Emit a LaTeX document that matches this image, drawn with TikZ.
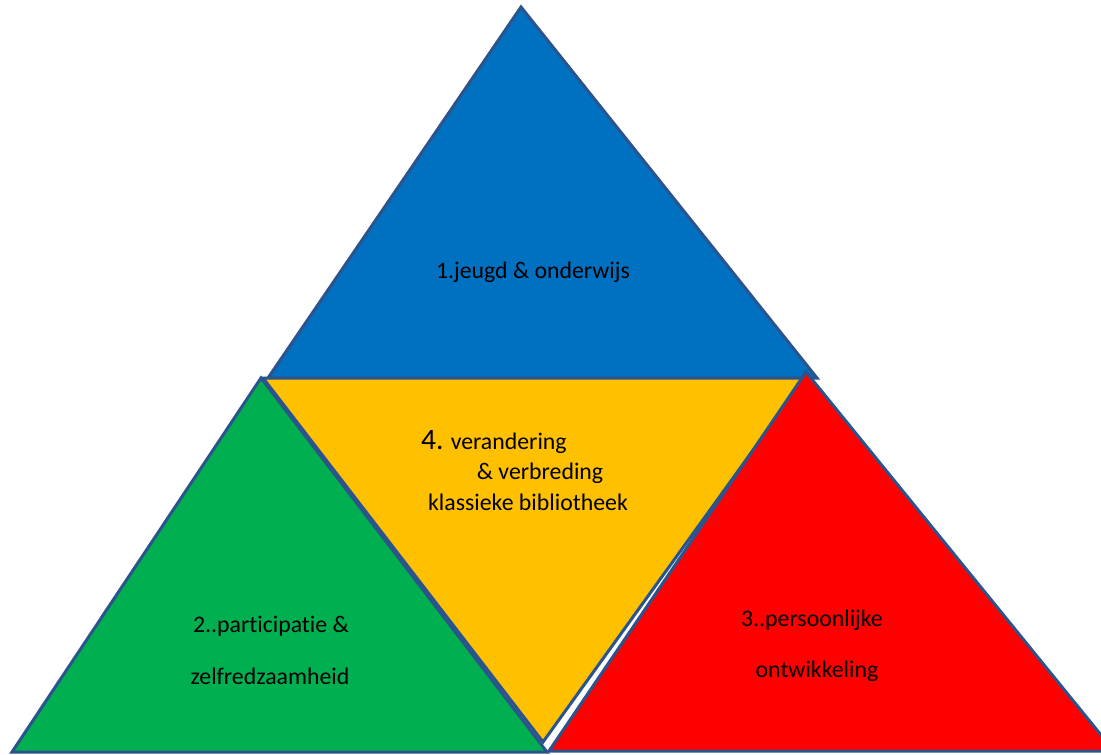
\documentclass[tikz,border=0pt]{standalone}
\usepackage{fontspec}
\setmainfont[RawFeature=-liga]{Carlito}
\definecolor{edge}{RGB}{44,84,140}
\definecolor{tblue}{RGB}{0,112,192}
\definecolor{tgreen}{RGB}{0,176,80}
\definecolor{tyellow}{RGB}{255,192,0}
\definecolor{tred}{RGB}{255,0,0}
\tikzset{
  tri/.style={draw=edge, line width=3pt, line join=miter},
  lbl/.style={font=\fontsize{23.8}{28}\selectfont, text=black, inner sep=0pt}
}
\begin{document}
\begin{tikzpicture}[x=1pt,y=-1pt]
\useasboundingbox[fill=white] (0,0) rectangle (1101,755);
% blue top triangle
\coordinate (bA) at (521,7);
\coordinate (bL) at (268,378);
\coordinate (bR) at (817,378);
\fill[tblue] (bA) -- (bL) -- (bR) -- cycle;
\draw[tri] (bA) -- (bL) -- (bR) -- cycle;
% yellow inverted triangle
\coordinate (yL) at (263,378);
\coordinate (yR) at (805,378);
\coordinate (yB) at (543,742);
\draw[tri, fill=tyellow] (yL) -- (yR) -- (yB) -- cycle;
% green triangle
\coordinate (gA) at (261,378);
\coordinate (gL) at (12,752);
\coordinate (gR) at (547,752);
\draw[tri, fill=tgreen] (gA) -- (gL) -- (gR) -- cycle;
% red triangle
\coordinate (rA) at (806,372);
\coordinate (rL) at (549,751);
\coordinate (rR) at (1114,751);
\draw[tri, fill=tred] (rA) -- (rL) -- (rR) -- cycle;
% labels
\node[lbl] (t1) at (533,272) {1.jeugd \& onderwijs};
\node[lbl] (t2a) at (271,626) {2..participatie \&};
\node[lbl] (t2b) at (270,676) {zelfredzaamheid};
\node[lbl] (t3a) at (812,620) {3..persoonlijke};
\node[lbl] (t3b) at (817,671) {ontwikkeling};
\node[lbl, anchor=west] (t4a) at (421,442) {{\fontsize{29.5}{32}\selectfont 4.} verandering};
\node[lbl] (t4b) at (540,473) {\& verbreding};
\node[lbl] (t4c) at (528,502) {klassieke bibliotheek};
\end{tikzpicture}
\end{document}
